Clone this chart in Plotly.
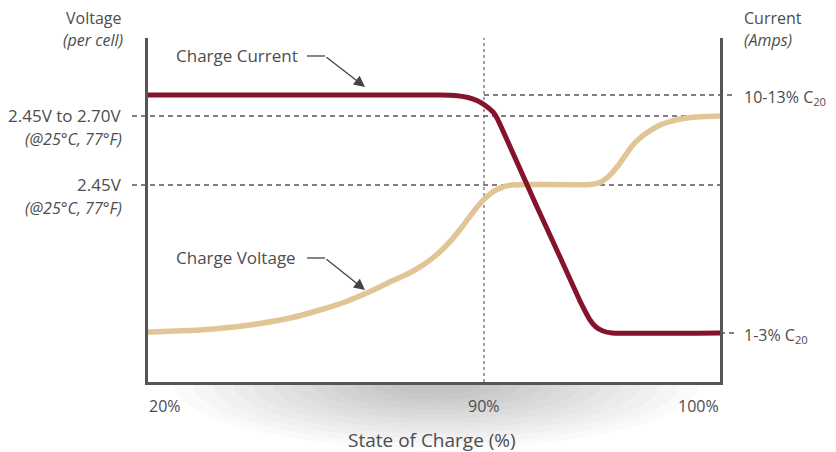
import numpy as np
import plotly.graph_objects as go

# -- state of charge position along the axis (0 = 20%, 100 = 100%)
soc_ticks = [0, 58.74, 100]
soc_labels = ['20%', '90%', '100%']

# -- charge current curve
current_x = [0, 51.05, 53.67, 55.94, 57.69, 59.09, 60.31, 61.01, 68.01, 72.03, 75.52,
             76.40, 77.27, 78.32, 79.55, 81.12, 100]
current_y = [83.43, 83.43, 83.29, 82.70, 81.69, 80.23, 78.49, 76.74, 50.87, 36.34, 23.55,
             20.64, 18.02, 15.99, 14.83, 14.24, 14.24]

# -- charge voltage curve
voltage_x = [0, 9.09, 17.83, 24.83, 30.07, 34.44, 38.81, 42.83, 45.80, 47.55, 49.30,
             51.05, 52.80, 54.55, 55.94, 57.34, 58.74, 60.14, 61.54, 63.29, 65.91,
             77.27, 79.02, 80.42, 81.99, 83.39, 84.62, 86.01, 87.41, 89.16, 90.73, 93.01,
             95.63, 100]
voltage_y = [14.53, 15.12, 16.57, 18.60, 20.93, 23.26, 26.31, 29.51, 31.77, 33.46, 35.44,
             37.85, 40.81, 44.33, 47.41, 50.47, 53.08, 55.09, 56.37, 57.18, 57.41,
             57.41, 57.99, 59.59, 62.50, 65.70, 68.60, 70.93, 72.67, 74.42, 75.44, 76.45,
             77.03, 77.33]

# -- reference levels
volt_levels = [77.33, 57.27]
volt_labels = ['2.45V to 2.70V', '2.45V']
volt_notes = ['<i>(@25°C, 77°F)</i>', '<i>(@25°C, 77°F)</i>']
curr_levels = [83.43, 14.24]
curr_labels = ['10-13% C<sub>20</sub>', '1-3% C<sub>20</sub>']

RED = '#84142b'
TAN = '#e2c597'
GRAY = '#4d4d4d'
AXIS = '#555555'
FONT = 'Open Sans'


def shadow_path(cx, top, rx, ry, n=60):
    """Half ellipse below the x axis, in paper coords"""
    t = np.linspace(0, np.pi, n)
    xs = cx + rx * np.cos(t)
    ys = top - ry * np.sin(t)
    pts = ['M{:.4f},{:.4f}'.format(xs[0], ys[0])]
    pts += ['L{:.4f},{:.4f}'.format(a, b) for a, b in zip(xs[1:], ys[1:])]
    return ' '.join(pts) + ' Z'


def label(fig, x, y, text, xanchor, size=17, yanchor='middle'):
    # x, y in axis units (0-100 both ways), placed through paper refs so they may sit outside
    fig.add_annotation(x=x / 100, y=y / 100, xref='paper', yref='paper', text=text,
                       showarrow=False, xanchor=xanchor, yanchor=yanchor, borderpad=0,
                       font=dict(family=FONT, size=size, color=GRAY))


def callout(fig, x, y, text, x_elbow, x_head, y_head):
    label(fig, x, y, text, 'left')
    fig.add_shape(type='line', xref='x', yref='y', x0=x_elbow - 3.14, x1=x_elbow, y0=y, y1=y,
                  line=dict(color='#444444', width=1.3))
    fig.add_annotation(x=x_head, y=y_head, ax=x_elbow, ay=y, xref='x', yref='y',
                       axref='x', ayref='y', text='', showarrow=True, arrowhead=2,
                       arrowsize=1.7, arrowwidth=1.3, arrowcolor='#444444')


fig = go.Figure()

# -- soft shadow under the chart
for k in range(12):
    s = 1 - k * 0.075
    fig.add_shape(type='path', xref='paper', yref='paper', layer='below',
                  path=shadow_path(0.505, -0.003, 0.46 * s, 0.19 * s),
                  fillcolor='rgba(0,0,0,0.018)', line=dict(width=0))

fig.add_trace(go.Scatter(x=voltage_x, y=voltage_y, mode='lines', name='Charge Voltage',
                         line=dict(color=TAN, width=5.5, shape='spline', smoothing=0.5),
                         hoverinfo='skip'))
fig.add_trace(go.Scatter(x=current_x, y=current_y, mode='lines', name='Charge Current',
                         line=dict(color=RED, width=5, shape='spline', smoothing=0.4),
                         hoverinfo='skip'))

# -- dashed reference lines
dash = dict(color='#555555', width=1.3, dash='5px,4px')
for lv in volt_levels:
    fig.add_shape(type='line', xref='paper', yref='y', x0=-0.028, x1=1, y0=lv, y1=lv,
                  line=dash, layer='below')
fig.add_shape(type='line', xref='paper', yref='y', x0=soc_ticks[1] / 100, x1=1.026,
              y0=curr_levels[0], y1=curr_levels[0], line=dash, layer='below')
fig.add_shape(type='line', xref='paper', yref='y', x0=1, x1=1.026,
              y0=curr_levels[1], y1=curr_levels[1], line=dash, layer='below')
fig.add_shape(type='line', xref='x', yref='paper', x0=soc_ticks[1], x1=soc_ticks[1], y0=0, y1=1,
              line=dict(color='#666666', width=1.2, dash='dot'), layer='below')

# -- left axis labels
label(fig, -4.55, 105.8, 'Voltage', 'right', size=16)
label(fig, -4.2, 99.4, '<i>(per cell)</i>', 'right', size=16)
for lv, txt, note in zip(volt_levels, volt_labels, volt_notes):
    label(fig, -4.3, lv, txt, 'right')
    label(fig, -4.3, lv - 6.8, note, 'right', size=16)

# -- right axis labels
label(fig, 104.0, 105.8, 'Current', 'left', size=16)
label(fig, 104.0, 99.4, '<i>(Amps)</i>', 'left', size=16)
for lv, txt in zip(curr_levels, curr_labels):
    label(fig, 104.0, lv - 0.6, txt, 'left', size=16)

# -- x tick labels and title
for xv, txt, anc in zip(soc_ticks, soc_labels, ['left', 'center', 'right']):
    label(fig, xv, -6.98, txt, anc, size=16)
label(fig, 49.65, -16.9, 'State of Charge (%)', 'center', size=19)

callout(fig, 4.72, 94.77, 'Charge Current', 30.94, 37.94, 85.76)
callout(fig, 4.72, 36.05, 'Charge Voltage', 30.94, 37.94, 26.74)

# page body has an 8px margin, so the figure is 8px smaller and margins shifted
fig.update_layout(width=828, height=444, margin=dict(l=140, r=116, t=30, b=70),
                  plot_bgcolor='#FFFFFF', paper_bgcolor='#FFFFFF', showlegend=False,
                  font=dict(family=FONT, color=GRAY))
fig.update_xaxes(range=[0, 100], showgrid=False, zeroline=False, showticklabels=False,
                 ticks='', showline=True, linecolor=AXIS, linewidth=3, mirror=False)
fig.update_yaxes(range=[0, 100], showgrid=False, zeroline=False, showticklabels=False,
                 ticks='', showline=True, linecolor=AXIS, linewidth=3, mirror=True)

fig.write_html('out.html')
